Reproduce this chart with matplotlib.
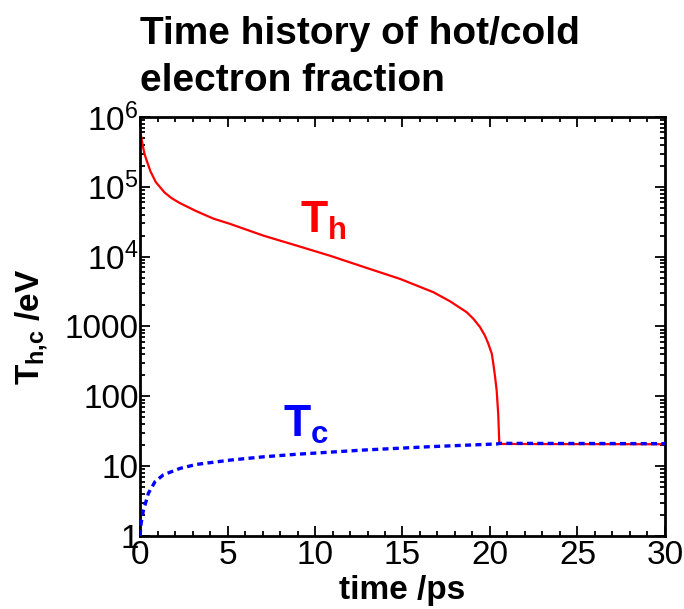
import matplotlib
matplotlib.use('Agg')
import matplotlib.pyplot as plt
from matplotlib.ticker import FixedLocator, FixedFormatter, MultipleLocator, LogLocator, NullFormatter

plt.rcParams['font.family'] = ['Liberation Sans', 'DejaVu Sans']
plt.rcParams['mathtext.fontset'] = 'custom'
plt.rcParams['mathtext.rm'] = 'Liberation Sans'
plt.rcParams['mathtext.bf'] = 'Liberation Sans:bold'

# hot electron temperature (eV) vs time (ps)
t_hot = [0, 0.07, 0.15, 0.25, 0.35, 0.6, 0.9, 1.4, 1.8, 2.25, 3.2, 4.2, 5.14,
         7.05, 8.95, 10.86, 12.95, 14.86, 16.76, 17.71, 18.67, 19.05, 19.43,
         19.71, 19.9, 20.1, 20.19, 20.29, 20.38, 20.47, 20.53, 20.6, 25, 30]
T_hot = [6.6e5, 5.2e5, 4.0e5, 3.0e5, 2.5e5, 1.66e5, 1.17e5, 8.3e4, 6.9e4,
         5.9e4, 4.5e4, 3.5e4, 2.95e4, 2.0e4, 1.44e4, 1.03e4, 6.9e3, 4.8e3,
         3.1e3, 2.3e3, 1.6e3, 1.29e3, 980, 740, 570, 410, 293, 190, 122, 56,
         22, 20.8, 20.7, 20.6]

# cold electron temperature (eV) vs time (ps)
t_cold = [0, 0.06, 0.19, 0.48, 0.86, 1.33, 2.29, 3.24, 5.14, 7.05, 8.95,
          12.76, 16.57, 20.38, 20.6, 25, 30]
T_cold = [1.0, 1.5, 2.3, 4.1, 6.0, 7.5, 9.3, 10.6, 12.2, 13.6, 14.8,
          17.0, 19.0, 20.8, 21.2, 21.1, 21.0]

y_ticks = [1, 10, 100, 1000, 1e4, 1e5, 1e6]
y_labels = ['1', '10', '100', '1000', r'$\mathregular{10^4}$',
            r'$\mathregular{10^5}$', r'$\mathregular{10^6}$']

fig = plt.figure(figsize=(6.84, 6.09), dpi=100)
ax = fig.add_axes([0.2047, 0.1199, 0.7675, 0.688])

ax.plot(t_hot, T_hot, color='#ff0000', lw=1.6, zorder=2)
ax.plot(t_cold, T_cold, color='#0000ff', lw=2.4, linestyle=(0, (1.8, 1.3)), zorder=3)

ax.set_yscale('log')
ax.set_xlim(0, 30)
ax.set_ylim(1, 1e6)

ax.xaxis.set_major_locator(MultipleLocator(5))
ax.xaxis.set_minor_locator(MultipleLocator(1))
ax.yaxis.set_major_locator(FixedLocator(y_ticks))
ax.yaxis.set_major_formatter(FixedFormatter(y_labels))
ax.yaxis.set_minor_locator(LogLocator(base=10, subs=range(2, 10), numticks=20))
ax.yaxis.set_minor_formatter(NullFormatter())

for s in ax.spines.values():
    s.set_linewidth(2)
ax.tick_params(which='both', direction='in', top=True, right=True, width=1.3)
ax.tick_params(which='major', length=7, labelsize=24)
ax.tick_params(which='minor', length=3.5)
ax.tick_params(axis='y', which='major', pad=1)
ax.tick_params(axis='x', which='major', pad=3)

ax.set_xlabel('time /ps', fontsize=24, fontweight='bold', labelpad=3)
ax.set_ylabel(r'$\mathbf{T}_{\mathbf{h{,}c}}$ /eV', fontsize=24, fontweight='bold', labelpad=10)

ax.text(9.14, 2.2e4, r'$\mathbf{T}_{\mathbf{h}}$', color='#ff0000', fontsize=32,
        ha='left', va='baseline')
ax.text(8.17, 25.9, r'$\mathbf{T}_{\mathbf{c}}$', color='#0000ff', fontsize=32,
        ha='left', va='baseline')

fig.text(0.2047, 0.973, 'Time history of hot/cold\nelectron fraction',
         fontsize=28, fontweight='bold', ha='left', va='top', linespacing=1.37)

fig.savefig('out.png', dpi=100)
